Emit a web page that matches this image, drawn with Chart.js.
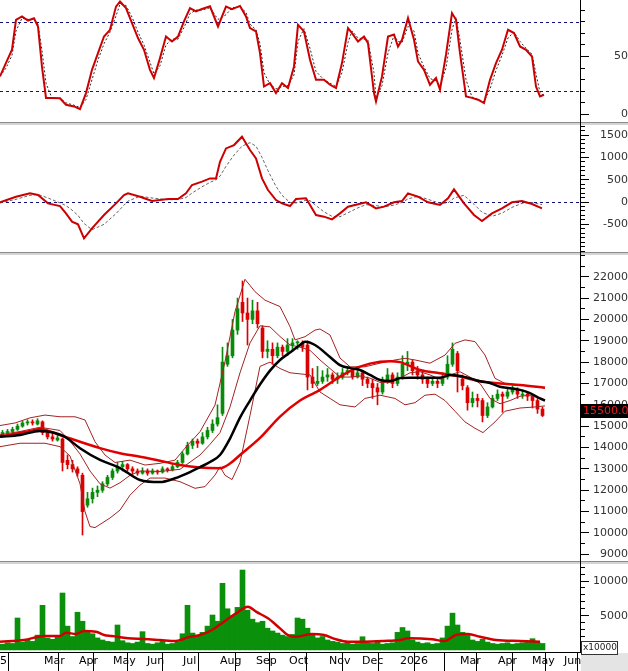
<!DOCTYPE html>
<html>
<head>
<meta charset="utf-8">
<title>Chart</title>
<script src="https://cdn.jsdelivr.net/npm/chart.js@4.4.1/dist/chart.umd.min.js"></script>
<style>
  html, body { margin: 0; padding: 0; background: #ffffff; }
  #board { position: relative; width: 628px; height: 671px; overflow: hidden; background: #ffffff; }
  #board canvas { position: absolute; left: 0; }
  .sep { position: absolute; left: 0; width: 628px; height: 3px; background: #d4d4d4; border-top: 1px solid #8c8c8c; box-sizing: border-box; }
  #axisLine { position: absolute; left: 580px; top: 0; width: 1px; height: 652px; background: #000; }
</style>
</head>
<body>
<div id="board">
  <canvas id="stochChart" width="628" height="122" style="top:0px"></canvas>
  <div class="sep" style="top:122px"></div>
  <canvas id="macdChart" width="628" height="127" style="top:125px"></canvas>
  <div class="sep" style="top:252px"></div>
  <canvas id="priceChart" width="628" height="306" style="top:255px"></canvas>
  <div class="sep" style="top:561px"></div>
  <canvas id="volumeChart" width="628" height="107" style="top:564px"></canvas>
  <div id="axisLine"></div>
</div>
<script>
// x unit = one bar slot (about 3 sessions); bar k sits at k + 0.5
const monthStarts = [-4.8, 8.2, 15.2, 22, 28.8, 36, 43.4, 50.6, 57.2, 65.2, 71.8, 79.4, 86.4, 91.4, 99, 105.8, 112.2];
const monthLabels = ['2025', 'Mar', 'Apr', 'May', 'Jun', 'Jul', 'Aug', 'Sep', 'Oct', 'Nov', 'Dec', '2026', '', 'Mar', 'Apr', 'May', 'Jun'];

const opens = [
    14600, 14700, 14750, 14850, 15000, 15150, 15200, 15100, 15200, 14700,
    14500, 14350, 14400, 13400, 13200, 13000, 12700, 11300, 11600, 11900,
    12000, 12300, 12600, 12900, 13100, 13200, 13000, 12900, 12800, 12900,
    12800, 12900, 12850, 13000, 12950, 13100, 13300, 13700, 14100, 14300,
    14200, 14500, 14800, 15100, 15600, 17900, 18300, 19500, 20800, 20300,
    20000, 20400, 19600, 18500, 18600, 18300, 18700, 18500, 18800, 18900,
    18900, 18800, 17300, 17000, 17100, 17300, 17400, 17200, 17300, 17500,
    17600, 17300, 17500, 17200, 17000, 16800, 16600, 17100, 17400, 17000,
    17300, 17900, 18000, 17600, 17400, 17200, 17000, 17100, 17000, 17300,
    17900, 18400, 17200, 16800, 16100, 16300, 16200, 15500, 15900, 16300,
    16500, 16400, 16600, 16700, 16450, 16500, 16400, 16200, 15800
];
const highs = [
    14800, 14850, 14950, 15100, 15250, 15300, 15300, 15350, 15250, 14800,
    14650, 14600, 14450, 13650, 13400, 13100, 12800, 11900, 12100, 12200,
    12400, 12700, 13000, 13300, 13350, 13250, 13100, 13000, 13050, 13000,
    13000, 12950, 13100, 13050, 13200, 13400, 13800, 14250, 14400, 14400,
    14700, 14950, 15300, 16000, 18700, 18900, 20000, 21000, 21800, 21000,
    20900, 20800, 19700, 19000, 18900, 18900, 18800, 19100, 19100, 19000,
    19000, 19000, 17700, 17800, 17600, 17700, 17500, 17500, 17700, 17800,
    17700, 17800, 17600, 17300, 17200, 17000, 17300, 17700, 17500, 17500,
    18300, 18500, 18100, 17800, 17600, 17300, 17300, 17200, 17500, 18300,
    18900, 18500, 17400, 16900, 16600, 16500, 16300, 16100, 16450, 16700,
    16600, 16800, 16900, 16800, 16700, 16600, 16500, 16300, 15900
];
const lows = [
    14500, 14600, 14700, 14800, 14950, 15050, 15050, 15050, 14600, 14400,
    14300, 14300, 12900, 13000, 12850, 12650, 9900, 11200, 11400, 11700,
    11900, 12200, 12500, 12800, 12900, 12900, 12750, 12700, 12750, 12700,
    12750, 12750, 12800, 12850, 12900, 13050, 13250, 13650, 13950, 14000,
    14150, 14400, 14700, 15000, 15500, 17800, 18200, 19300, 19900, 18800,
    19800, 19600, 18200, 18200, 17900, 18200, 18300, 18300, 18500, 18600,
    18500, 16700, 16800, 16900, 17000, 17100, 17000, 17000, 17200, 17400,
    17200, 17250, 16900, 16800, 16300, 16000, 16500, 17000, 16800, 16900,
    17200, 17600, 17400, 17200, 17000, 16800, 16900, 16800, 16900, 17200,
    17800, 16600, 16700, 15750, 15900, 15900, 15200, 15400, 15850, 16200,
    15650, 16300, 16500, 16300, 16300, 16200, 15850, 15600, 15450
];
const closes = [
    14700, 14750, 14850, 15000, 15150, 15200, 15150, 15250, 14700, 14500,
    14400, 14450, 13300, 13200, 13000, 12800, 11000, 11600, 11900, 12000,
    12300, 12600, 12900, 13100, 13200, 13000, 12900, 12800, 12900, 12800,
    12900, 12850, 13000, 12950, 13100, 13300, 13700, 14100, 14300, 14200,
    14500, 14800, 15100, 15400, 18000, 18300, 19500, 20500, 20300, 20000,
    20400, 19800, 18500, 18600, 18300, 18700, 18500, 18800, 18900, 18900,
    18700, 17300, 17000, 17100, 17300, 17400, 17200, 17300, 17500, 17600,
    17300, 17500, 17200, 17000, 16800, 16600, 17100, 17400, 17000, 17300,
    17900, 18000, 17600, 17400, 17200, 17000, 17100, 17000, 17300, 17900,
    18600, 17600, 16900, 16100, 16300, 16200, 15500, 15900, 16300, 16500,
    16400, 16600, 16700, 16500, 16500, 16400, 16200, 15800, 15500
];
const volumes = [
    900, 1100, 1000, 4670, 1200, 1500, 1300, 2200, 6500, 1800,
    1600, 2000, 8270, 3500, 2000, 5500, 4200, 2600, 2400, 1800,
    1500, 1300, 1200, 3660, 1400, 1100, 1000, 1200, 2700, 1000,
    900, 1100, 1300, 900, 1000, 1200, 2400, 6500, 2500, 2200,
    2600, 3500, 5100, 4200, 9670, 6000, 5000, 6200, 11580, 5800,
    4500, 4000, 4200, 3200, 2800, 2500, 2200, 2000, 2300, 4670,
    4500, 3200, 2400, 1800, 2000, 1500, 1300, 1200, 1000, 1100,
    900, 1000, 1970, 1100, 1000, 1200, 900, 1000, 1100, 2600,
    3300, 2800, 1500, 1200, 1000, 1100, 900, 1000, 1800, 3500,
    5370, 3660, 2600, 2200, 1500, 1300, 1600, 1200, 1000, 900,
    1000, 1100, 900, 1000, 1100, 1300, 1690, 1200, 1000
];

// moving averages and bands on the price panel
const ma50X = [0, 4, 8, 11, 13, 16, 20, 24, 28, 32, 35, 38, 40, 42, 44, 46, 48, 50, 52, 54, 56, 58, 60, 61, 63, 66, 68, 70, 72, 74, 76, 78, 80, 82, 84, 86, 88, 90, 92, 94, 96, 98, 100, 102, 104, 106, 108, 109];
const ma50 = [14500, 14590, 14770, 14680, 14500, 13970, 13420, 13040, 12480, 12380, 12560, 12850, 13080, 13320, 13650, 14420, 15400, 16200, 16950, 17600, 18100, 18450, 18800, 18950, 18800, 18240, 17860, 17720, 17630, 17400, 17160, 17110, 17250, 17270, 17270, 17270, 17270, 17400, 17350, 17240, 17100, 17020, 16850, 16780, 16700, 16550, 16300, 16200];
const ma100X = [0, 6, 8, 12, 16, 20, 24, 28, 32, 36, 40, 44, 46, 48, 52, 56, 60, 62.8, 64, 68, 72, 76, 78, 80, 84, 88, 92, 96, 100, 104, 109];
const ma100 = [14510, 14770, 14870, 14580, 14270, 13970, 13730, 13570, 13380, 13180, 13060, 13030, 13250, 13650, 14450, 15450, 16200, 16550, 16700, 17320, 17790, 18020, 18040, 18000, 17630, 17480, 17320, 17110, 17000, 16930, 16800];
const bbUpperX = [0, 3, 6, 9, 12, 15, 17, 19, 21, 23, 26, 29, 32, 35, 37, 40, 43, 45, 47, 49, 51, 53, 56, 58, 59, 61, 63, 64, 66, 68, 70, 73, 76, 79, 81, 83, 86, 89, 91, 93, 95, 97, 99, 101, 104, 107, 109];
const bbUpper = [15030, 15150, 15390, 15520, 15440, 15440, 15290, 14270, 13650, 13300, 13410, 13180, 13260, 13410, 13970, 14740, 15990, 18020, 20360, 21880, 21300, 20900, 20600, 19660, 19040, 19190, 19500, 19550, 19270, 18190, 17780, 17780, 17950, 18100, 18180, 18100, 17950, 18330, 18880, 19040, 18960, 18330, 17240, 17000, 16930, 16850, 16780];
const bbMidX = [0, 4, 8, 12, 14, 16, 18, 20, 22, 24, 26, 28, 32, 36, 40, 42, 44, 46, 48, 50, 52, 54, 56, 58, 60, 62, 64, 66, 68, 70, 72, 74, 76, 78, 80, 82, 84, 86, 88, 90, 92, 94, 96, 98, 100, 102, 104, 106, 108, 109];
const bbMid = [14600, 14750, 14950, 14800, 14300, 13700, 12900, 12300, 12100, 12350, 12700, 12900, 12880, 12980, 13650, 14150, 14700, 15900, 17500, 18900, 19700, 19650, 19200, 18800, 18700, 18550, 18100, 17700, 17300, 17300, 17350, 17250, 17050, 17050, 17250, 17500, 17550, 17400, 17200, 17400, 17550, 17300, 17000, 16300, 16050, 16200, 16400, 16450, 16300, 16250];
const bbLowerX = [0, 4, 9, 12, 14, 16, 17, 18, 19, 22, 24, 26, 28, 30, 33, 36, 39, 41, 43, 44, 45, 46.4, 48, 50, 52, 54, 56, 58, 60, 62, 64, 66, 68, 71, 73, 76, 79, 81, 83, 85, 87, 89, 91, 93, 95, 96.6, 99, 101, 104, 107, 109];
const bbLower = [14040, 14200, 14200, 14040, 13600, 12300, 11000, 10300, 10250, 10700, 11070, 11770, 12240, 12570, 12570, 12400, 12090, 12170, 12710, 13100, 12700, 12500, 13300, 15500, 17800, 18000, 17700, 17500, 17450, 17400, 16600, 16300, 16000, 15900, 16300, 16450, 16300, 16000, 16100, 16450, 16500, 16200, 15700, 15200, 14900, 14700, 15200, 15700, 15850, 15900, 15950];

// stochastic
const stochX = [0, 1.2, 2.4, 3.2, 4.4, 5.6, 6.8, 7.6, 8.4, 9.2, 10.4, 12, 13.2, 14.8, 16, 17.2, 18.4, 19.6, 20.8, 22, 23.2, 24, 25.2, 26.4, 27.6, 28.8, 30, 30.8, 32, 33.2, 34.4, 35.6, 36.8, 38, 39.2, 40.4, 42, 43.6, 45.2, 46.4, 48, 49.2, 50, 51.2, 52, 52.8, 54, 55.2, 56.4, 57.6, 58.8, 59.6, 60.8, 62, 63.2, 64.8, 66, 67.2, 68.4, 69.6, 70.4, 71.6, 72.8, 73.6, 74.8, 75.2, 76.4, 77.6, 78.8, 79.6, 80.4, 81.6, 82.8, 83.6, 84.8, 86, 87.2, 88, 89.2, 90.4, 91.2, 92, 93.2, 94.4, 95.6, 96.8, 98, 99.2, 100.4, 101.6, 102.8, 104, 105.2, 106.4, 107.2, 108, 108.8];
const stochK = [32.8, 44.5, 55.8, 81.6, 84.5, 81, 83, 75.9, 41, 14.3, 14.3, 14, 8.3, 6.9, 4.6, 18.4, 38.5, 52.9, 67.2, 73, 93, 97.4, 91.7, 78.8, 65.9, 55.8, 38.5, 31.4, 48.6, 67.2, 62.9, 67.2, 80.2, 91.7, 88.8, 91, 93.3, 75.9, 93, 90.8, 93.6, 84.5, 74.5, 71.6, 52.9, 24.1, 27, 18.4, 27, 22.8, 41.4, 77.3, 71.6, 47.2, 29.9, 29.9, 25.6, 22.8, 44.3, 74.5, 70.2, 62.9, 67.2, 61.5, 18.4, 11.2, 32.8, 67.2, 69, 58.6, 64.4, 83.1, 64.4, 45.7, 38.5, 25.6, 31.4, 21.3, 51.5, 87.4, 81.6, 52.9, 15.5, 14.3, 12.7, 9.8, 29.9, 44.3, 55.8, 73, 70.2, 58.6, 55.8, 50, 24.1, 15.5, 17];
const stochD = [33, 40, 51, 72, 83, 82, 82, 78, 55, 27, 14, 14, 10, 8, 6, 13, 30, 47, 61, 71, 85, 95, 94, 84, 71, 60, 45, 35, 42, 60, 65, 65, 75, 87, 90, 90, 92, 82, 86, 92, 93, 88, 78, 73, 61, 36, 26, 22, 24, 25, 34, 63, 74, 57, 37, 30, 27, 24, 36, 62, 72, 66, 65, 64, 36, 14, 25, 53, 68, 63, 62, 76, 72, 53, 41, 31, 29, 25, 40, 73, 84, 64, 30, 15, 13, 11, 22, 38, 51, 66, 71, 63, 57, 52, 35, 19, 16];
const stochLevels = [20, 80];

// MACD
const macdX = [0, 3.2, 6, 7.6, 9.6, 12, 13.2, 14.4, 15.6, 16.8, 18.4, 20.8, 23.2, 24.8, 25.6, 28, 30.4, 33.6, 35.6, 37.2, 38.4, 40.4, 42, 43.2, 44, 45.2, 46.8, 48.4, 50, 51.2, 52.4, 53.6, 55.2, 56.4, 58, 59.2, 61.2, 62, 63.2, 64.8, 66.4, 68, 69.6, 71.6, 73.2, 75.2, 76.8, 78.8, 80.4, 81.6, 83.6, 85.6, 88, 89.6, 90.8, 92.8, 94.8, 96.4, 98.4, 100.4, 102.4, 104.4, 106.4, 108.4];
const macdLine = [-7, 119, 194, 157, -30, -90, -254, -440, -500, -813, -589, -291, -30, 157, 194, 119, 22, 67, 67, 194, 380, 455, 529, 529, 902, 1200, 1275, 1462, 1163, 977, 529, 268, 45, -30, -90, 67, 82, -67, -291, -328, -388, -254, -104, -52, -7, -142, -104, -7, 22, 194, 119, -7, -67, 82, 283, -30, -291, -425, -254, -142, -7, 22, -45, -142];
const macdSignal = [-20, 60, 150, 170, 90, -20, -80, -180, -300, -480, -620, -500, -260, -70, 20, 130, 90, 50, 55, 100, 200, 340, 440, 500, 580, 800, 1050, 1250, 1330, 1250, 1000, 700, 350, 150, -10, -20, 40, 30, -80, -220, -320, -330, -240, -130, -60, -80, -110, -70, -10, 70, 130, 60, -30, -20, 90, 150, -50, -230, -320, -250, -120, -30, -10, -60];
const macdLevels = [0];

// volume average
const volMaX = [0, 4.8, 8.8, 12, 13.2, 15.2, 16.8, 19.2, 20.8, 22.4, 25.6, 28.8, 32, 35.2, 37.6, 40, 42.4, 44.8, 47.2, 49.6, 51.2, 53.6, 56, 57.6, 59.2, 62.4, 64.8, 67.2, 69.6, 72.8, 76.8, 80, 81.6, 86.4, 88.8, 91.2, 93.6, 96, 99.2, 104, 108];
const volMa = [1250, 1500, 2070, 2070, 2550, 2360, 2790, 2690, 2210, 2070, 1740, 1650, 1500, 1350, 1890, 2210, 2940, 4140, 5340, 6300, 5580, 4620, 3180, 2210, 1970, 2360, 2210, 1600, 1250, 1250, 1350, 1500, 1740, 1600, 1350, 2210, 2360, 1970, 1500, 1350, 1250];

// axis tick labels
const stochTicks = [0, 50];
const macdTicks = [-500, 0, 500, 1000, 1500];
const priceTicks = [9000, 10000, 11000, 12000, 13000, 14000, 15000, 16000, 17000, 18000, 19000, 20000, 21000, 22000];
const volumeTicks = [5000, 10000];

const AXIS_FONT = { family: 'DejaVu Sans', size: 11 };
const AXIS_FONT_CSS = '11px "DejaVu Sans"';
const PLOT_RIGHT = 580;
const LABEL_RIGHT = 627;
const MAJOR_TICK = 9;
const MINOR_TICK = 4;
const UP = '#0a8a0a';
const DOWN = '#dd0000';

function pts(xs, ys) {
    return xs.map((x, i) => ({ x: x, y: ys[i] }));
}

function labelPadding(labels) {
    const c = document.createElement('canvas').getContext('2d');
    c.font = AXIS_FONT_CSS;
    const widest = Math.max(...labels.map(t => c.measureText(t).width));
    return LABEL_RIGHT - PLOT_RIGHT - MAJOR_TICK - widest;
}

// keep the plot area flush with the canvas edges
function noPad(s) {
    s.paddingTop = 0;
    s.paddingBottom = 0;
    s.paddingLeft = 0;
    s.paddingRight = 0;
}

function hiddenX() {
    return { type: 'linear', min: 0, max: 116, offset: false, display: false };
}

function timeAxis() {
    return {
        type: 'linear',
        min: 0,
        max: 116,
        offset: false,
        position: 'bottom',
        afterFit: s => { s.height = 19; noPad(s); },
        afterBuildTicks: s => { s.ticks = monthStarts.map(v => ({ value: v })); },
        grid: { drawOnChartArea: false, drawTicks: true, tickLength: 19, tickColor: '#000', tickWidth: 1 },
        border: { display: true, color: '#000', width: 1 },
        ticks: {
            autoSkip: false,
            maxRotation: 0,
            align: 'start',
            labelOffset: 3,
            padding: -16,
            color: '#000',
            font: AXIS_FONT,
            callback: (v, i) => monthLabels[i]
        }
    };
}

// one right-hand axis: minor ticks every minorStep, labelled long ticks at majors
function valueAxis(min, max, majors, minorStep) {
    const values = [];
    for (let v = Math.ceil(min / minorStep) * minorStep; v <= max; v += minorStep) {
        values.push(v);
    }
    const labels = majors.map(v => String(v));
    const isMajor = v => majors.indexOf(v) >= 0;
    return {
        type: 'linear',
        position: 'right',
        min: min,
        max: max,
        afterFit: s => { s.width = 48; noPad(s); },
        afterBuildTicks: s => { s.ticks = values.map(v => ({ value: v })); },
        grid: {
            drawOnChartArea: false,
            drawTicks: true,
            tickLength: MAJOR_TICK,
            tickColor: '#000',
            tickBorderDash: c => (c.tick && isMajor(c.tick.value) ? [] : [MINOR_TICK, 40])
        },
        border: { display: true, color: '#000', width: 1 },
        ticks: {
            autoSkip: false,
            crossAlign: 'far',
            padding: labelPadding(labels),
            color: '#333',
            font: AXIS_FONT,
            callback: v => (isMajor(v) ? String(v) : '')
        }
    };
}

function chartOptions(scales, pluginOptions) {
    return {
        responsive: false,
        animation: false,
        events: [],
        layout: { padding: 0, autoPadding: false },
        plugins: Object.assign({ legend: { display: false }, tooltip: { enabled: false } }, pluginOptions || {}),
        scales: scales
    };
}

function lineSet(xs, ys, color, width, extra) {
    return Object.assign({
        type: 'line',
        data: pts(xs, ys),
        borderColor: color,
        borderWidth: width,
        pointRadius: 0,
        tension: 0,
        fill: false,
        xAxisID: 'x',
        yAxisID: 'y'
    }, extra || {});
}

const refLines = {
    id: 'refLines',
    beforeDatasetsDraw(chart, args, opts) {
        const { ctx, chartArea, scales } = chart;
        ctx.save();
        ctx.strokeStyle = '#10107a';
        ctx.lineWidth = 1;
        ctx.setLineDash([3, 3]);
        (opts.levels || []).forEach(v => {
            const y = Math.round(scales.y.getPixelForValue(v)) + 0.5;
            ctx.beginPath();
            ctx.moveTo(chartArea.left, y);
            ctx.lineTo(chartArea.right, y);
            ctx.stroke();
        });
        ctx.restore();
    }
};

const lastPriceTag = {
    id: 'lastPriceTag',
    afterDraw(chart) {
        const { ctx, chartArea, scales } = chart;
        const last = closes[closes.length - 1];
        const y = Math.round(scales.y.getPixelForValue(last));
        ctx.save();
        ctx.fillStyle = '#000';
        ctx.fillRect(chartArea.right, y - 11, chart.width - chartArea.right, 14);
        ctx.fillStyle = '#e81818';
        ctx.font = AXIS_FONT_CSS;
        ctx.textAlign = 'left';
        ctx.textBaseline = 'middle';
        ctx.fillText(last.toFixed(2), chartArea.right + 3, y - 4);
        ctx.restore();
    }
};

const volumeCorner = {
    id: 'volumeCorner',
    afterDraw(chart) {
        const { ctx, chartArea } = chart;
        ctx.save();
        ctx.fillStyle = '#e4e4e4';
        ctx.fillRect(chartArea.right + 1, chartArea.bottom + 1, chart.width - chartArea.right - 1, chart.height - chartArea.bottom - 1);
        const bx = chartArea.right + 1;
        const by = chartArea.bottom - 11;
        ctx.fillStyle = '#fff';
        ctx.fillRect(bx, by, 36, 13);
        ctx.strokeStyle = '#333';
        ctx.lineWidth = 1;
        ctx.strokeRect(bx + 0.5, by + 0.5, 36, 13);
        ctx.fillStyle = '#222';
        ctx.font = '9px "DejaVu Sans"';
        ctx.textAlign = 'left';
        ctx.textBaseline = 'middle';
        ctx.fillText('x10000', bx + 2, by + 7);
        ctx.restore();
    }
};

const candleColor = c => (closes[c.dataIndex] >= opens[c.dataIndex] ? UP : DOWN);

// stochastic panel
new Chart(document.getElementById('stochChart'), {
    type: 'line',
    data: {
        datasets: [
            lineSet(stochX, stochK, '#cc0000', 2, { order: 1 }),
            lineSet(stochX, stochD, '#2a2a2a', 1, { borderDash: [2, 2], order: 2 })
        ]
    },
    options: chartOptions({ x: hiddenX(), y: valueAxis(-6.5, 98.7, stochTicks, 10) }, { refLines: { levels: stochLevels } }),
    plugins: [refLines]
});

// MACD panel
new Chart(document.getElementById('macdChart'), {
    type: 'line',
    data: {
        datasets: [
            lineSet(macdX, macdLine, '#cc0000', 2, { order: 1 }),
            lineSet(macdX, macdSignal, '#666666', 1, { borderDash: [3, 2], order: 2 })
        ]
    },
    options: chartOptions({ x: hiddenX(), y: valueAxis(-1119, 1724, macdTicks, 100) }, { refLines: { levels: macdLevels } }),
    plugins: [refLines]
});

// price panel
new Chart(document.getElementById('priceChart'), {
    type: 'line',
    data: {
        datasets: [
            lineSet(ma50X, ma50, '#000000', 2.5, { order: 1, cubicInterpolationMode: 'monotone' }),
            lineSet(ma100X, ma100, '#e00000', 2.5, { order: 2, cubicInterpolationMode: 'monotone' }),
            lineSet(bbUpperX, bbUpper, '#a52222', 1, { order: 3 }),
            lineSet(bbMidX, bbMid, '#a52222', 1, { order: 3 }),
            lineSet(bbLowerX, bbLower, '#a52222', 1, { order: 3 }),
            {
                type: 'bar',
                data: opens.map((o, i) => ({ x: i + 0.5, y: [lows[i], highs[i]] })),
                backgroundColor: candleColor,
                barThickness: 1,
                grouped: false,
                order: 10,
                xAxisID: 'x',
                yAxisID: 'y'
            },
            {
                type: 'bar',
                data: opens.map((o, i) => ({ x: i + 0.5, y: [o, closes[i]] })),
                backgroundColor: candleColor,
                barThickness: 3,
                minBarLength: 1,
                grouped: false,
                order: 9,
                xAxisID: 'x',
                yAxisID: 'y'
            }
        ]
    },
    options: chartOptions({ x: hiddenX(), y: valueAxis(8686, 23016, priceTicks, 500) }),
    plugins: [lastPriceTag]
});

// volume panel
new Chart(document.getElementById('volumeChart'), {
    type: 'line',
    data: {
        datasets: [
            lineSet(volMaX, volMa, '#d00000', 2.5, { order: 1, cubicInterpolationMode: 'monotone' }),
            {
                type: 'bar',
                data: volumes.map((v, i) => ({ x: i + 0.5, y: v })),
                backgroundColor: '#0a900a',
                barThickness: 5,
                grouped: false,
                order: 5,
                xAxisID: 'x',
                yAxisID: 'y'
            }
        ]
    },
    options: chartOptions({ x: timeAxis(), y: valueAxis(-230, 12450, volumeTicks, 1000) }),
    plugins: [volumeCorner]
});
</script>
</body>
</html>
